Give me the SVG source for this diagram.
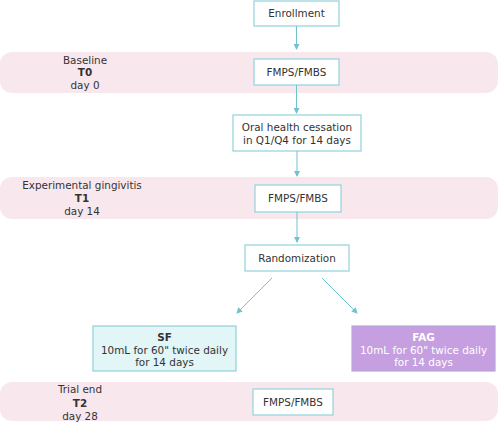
<svg xmlns="http://www.w3.org/2000/svg" width="500" height="423" viewBox="0 0 500 423">
<defs>
<marker id="ah" markerWidth="6" markerHeight="6" refX="5" refY="3" orient="auto" markerUnits="userSpaceOnUse"><path d="M0,0 L6,3 L0,6 Z" fill="#6fc3cd"/></marker>
<style>
.band{fill:#f8e8ee}
.box{fill:#fff;stroke:#90d2da;stroke-width:1.2}
.t{font-family:"DejaVu Sans",sans-serif;font-size:10.4px;fill:#333;text-anchor:middle}
.b{font-weight:bold}
.w{fill:#fff}
.c{stroke:#6fc3cd;stroke-width:1;fill:none;marker-end:url(#ah)}
</style>
</defs>
<rect width="500" height="423" fill="#fff"/>
<g id="band-T0"><rect class="band" x="0" y="52" width="498" height="41" rx="12"/>
<text class="t" x="85" y="63.5">Baseline</text><text class="t b" x="85" y="76">T0</text><text class="t" x="85" y="88.5">day 0</text></g>
<g id="band-T1"><rect class="band" x="0" y="177" width="498" height="42" rx="12"/>
<text class="t" x="82" y="188.5">Experimental gingivitis</text><text class="t b" x="82" y="201.5">T1</text><text class="t" x="82" y="214.5">day 14</text></g>
<g id="band-T2"><rect class="band" x="0" y="382" width="498" height="39" rx="12"/>
<text class="t" x="80" y="392.5">Trial end</text><text class="t b" x="80" y="406.5">T2</text><text class="t" x="80" y="419.5">day 28</text></g>
<g id="enrollment"><rect class="box" x="254" y="1" width="85" height="25"/><text class="t" x="296.5" y="17">Enrollment</text></g>
<g id="fmps1"><rect class="box" x="254" y="59" width="85" height="26"/><text class="t" x="296.5" y="75.5">FMPS/FMBS</text></g>
<g id="cessation"><rect class="box" x="233" y="115" width="128" height="36"/><text class="t" x="297" y="130.5">Oral health cessation</text><text class="t" x="297" y="143.5">in Q1/Q4 for 14 days</text></g>
<g id="fmps2"><rect class="box" x="255" y="185" width="86" height="27"/><text class="t" x="298" y="202">FMPS/FMBS</text></g>
<g id="randomization"><rect class="box" x="245" y="245" width="104" height="26"/><text class="t" x="297" y="261.5">Randomization</text></g>
<g id="sf"><rect x="93" y="326" width="143" height="45" fill="#e2f5f7" stroke="#8fd0d8" stroke-width="1.2"/><text class="t b" x="164.5" y="340.5">SF</text><text class="t" x="164.5" y="353.5">10mL for 60" twice daily</text><text class="t" x="164.5" y="365.5">for 14 days</text></g>
<g id="fag"><rect x="352" y="326" width="143" height="45" fill="#c59fdf" stroke="#b9a6e0" stroke-width="1.2"/><text class="t b w" x="423.5" y="340.5">FAG</text><text class="t w" x="423.5" y="353.5">10mL for 60" twice daily</text><text class="t w" x="423.5" y="365.5">for 14 days</text></g>
<g id="fmps3"><rect class="box" x="253" y="389" width="80" height="26"/><text class="t" x="293" y="405.5">FMPS/FMBS</text></g>
<g id="connectors">
<line class="c" x1="296.5" y1="26" x2="296.5" y2="49"/>
<line class="c" x1="296.5" y1="85" x2="296.5" y2="113"/>
<line class="c" x1="297" y1="151" x2="297" y2="176"/>
<line class="c" x1="297" y1="212" x2="297" y2="242"/>
<line class="c" x1="272" y1="278" x2="237" y2="313"/>
<line class="c" x1="322" y1="278" x2="357" y2="313"/>
</g>
</svg>
